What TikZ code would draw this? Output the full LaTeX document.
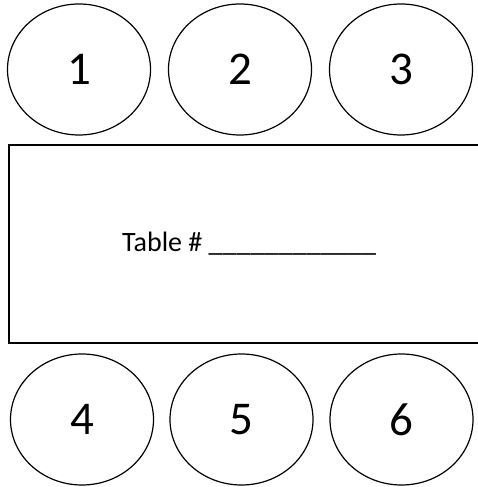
\documentclass[tikz,border=0pt]{standalone}
\usepackage{fontspec}
\setmainfont{Carlito}
\usetikzlibrary{shapes.geometric, positioning}

\begin{document}
\begin{tikzpicture}[x=1pt, y=1pt,
  seat/.style={draw, ellipse, line width=1.2pt, minimum width=143pt,
    minimum height=131pt, inner sep=0pt, font=\fontsize{47}{47}\selectfont},
  tablebox/.style={draw, line width=2pt, minimum width=491.5pt,
    minimum height=198pt, inner sep=0pt}]
  \useasboundingbox (0,0) rectangle (478,487);
  % Seats above the table
  \foreach \n/\x in {1/79, 2/240, 3/401} {
    \node[seat] (s\n) at (\x, 417.5) {\n};
  }
  % Table (right side runs off the page)
  \node[tablebox] (table) at (254.25, 243) {};
  \node[anchor=base west, inner sep=0pt, font=\fontsize{28}{28}\selectfont]
    (tablelabel) at (122, 235) {Table \# \_\_\_\_\_\_\_\_\_\_\_\_};
  % Seats below the table
  \foreach \n/\x in {4/82, 5/241.5, 6/401.5} {
    \node[seat] (s\n) at (\x, 67.5) {\n};
  }
\end{tikzpicture}
\end{document}
